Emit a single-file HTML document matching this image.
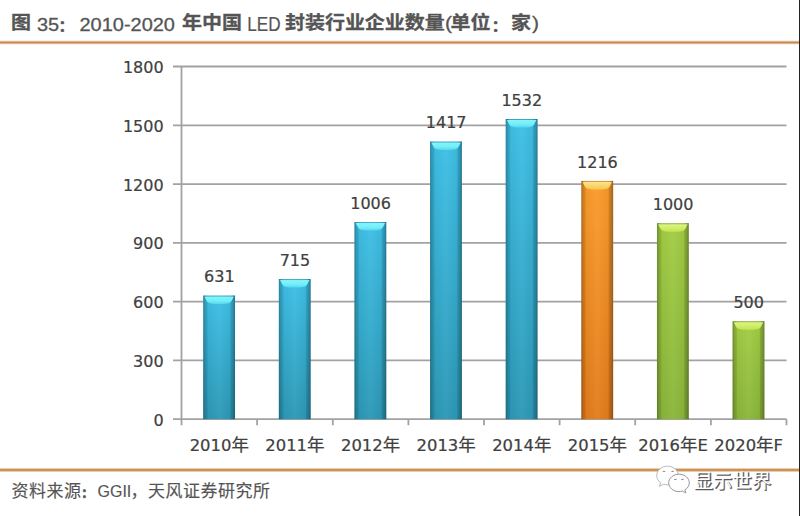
<!DOCTYPE html>
<html><head><meta charset="utf-8">
<style>
html,body{margin:0;padding:0;background:#fff;}
body{width:800px;height:516px;position:relative;overflow:hidden;}
svg{position:absolute;left:0;top:0;}
.cj{font-family:"Liberation Sans","Noto Sans CJK SC",sans-serif;font-size:17.5px;}
</style></head>
<body>
<svg width="800" height="516" viewBox="0 0 800 516">
<defs>
  <linearGradient id="hlg1" x1="0" x2="0" y1="0" y2="1"><stop offset="0" stop-color="#c8844a" stop-opacity="0.25"/><stop offset="0.25" stop-color="#c8844a" stop-opacity="0.6"/><stop offset="0.4" stop-color="#c8844a"/><stop offset="0.6" stop-color="#c8844a"/><stop offset="0.75" stop-color="#c8844a" stop-opacity="0.6"/><stop offset="1" stop-color="#c8844a" stop-opacity="0.25"/></linearGradient>
  <linearGradient id="hlg2" x1="0" x2="0" y1="0" y2="1"><stop offset="0" stop-color="#c98a48" stop-opacity="0.25"/><stop offset="0.25" stop-color="#c98a48" stop-opacity="0.6"/><stop offset="0.4" stop-color="#c98a48"/><stop offset="0.6" stop-color="#c98a48"/><stop offset="0.75" stop-color="#c98a48" stop-opacity="0.6"/><stop offset="1" stop-color="#c98a48" stop-opacity="0.25"/></linearGradient>
  <filter id="sb" x="-20%" y="-20%" width="140%" height="140%"><feGaussianBlur stdDeviation="0.5"/></filter>
  <linearGradient id="bh" x1="0" x2="1" y1="0" y2="0">
    <stop offset="0" stop-color="#000" stop-opacity="0.26"/>
    <stop offset="0.06" stop-color="#000" stop-opacity="0.117"/>
    <stop offset="0.13" stop-color="#000" stop-opacity="0.03"/>
    <stop offset="0.5" stop-color="#fff" stop-opacity="0.04"/>
    <stop offset="0.85" stop-color="#000" stop-opacity="0.04"/>
    <stop offset="0.93" stop-color="#000" stop-opacity="0.135"/>
    <stop offset="1" stop-color="#000" stop-opacity="0.3"/>
  </linearGradient>
  <linearGradient id="gb" x1="0" x2="0" y1="0" y2="1">
    <stop offset="0" stop-color="#3ec0e6"/><stop offset="1" stop-color="#2c98b6"/>
  </linearGradient>
  <linearGradient id="go" x1="0" x2="0" y1="0" y2="1">
    <stop offset="0" stop-color="#fb9c2c"/><stop offset="1" stop-color="#e27c1c"/>
  </linearGradient>
  <linearGradient id="gg" x1="0" x2="0" y1="0" y2="1">
    <stop offset="0" stop-color="#a2cd44"/><stop offset="1" stop-color="#8ab63a"/>
  </linearGradient>
  <linearGradient id="tb" x1="0" x2="0" y1="0" y2="1"><stop offset="0" stop-color="#88f4fa"/><stop offset="0.6" stop-color="#70eef8"/><stop offset="1" stop-color="#58d4ee"/></linearGradient>
  <linearGradient id="to" x1="0" x2="0" y1="0" y2="1"><stop offset="0" stop-color="#fae68a"/><stop offset="1" stop-color="#f8c454"/></linearGradient>
  <linearGradient id="tg" x1="0" x2="0" y1="0" y2="1"><stop offset="0" stop-color="#def684"/><stop offset="1" stop-color="#c2e450"/></linearGradient>
</defs>
<!-- title -->
<g fill="#555" stroke="#555" stroke-width="0.3" font-size="18">
 <text font-family="'Liberation Sans', 'Noto Sans CJK SC', sans-serif" font-weight="700" transform="translate(11 28.7) scale(1.11 1)">图</text>
 <text font-family="'Liberation Sans', sans-serif" transform="translate(37 30.8) scale(1.11 1)">35</text>
 <text font-family="'Liberation Sans', 'Noto Sans CJK SC', sans-serif" font-weight="700" font-size="14.5" stroke-width="0.7" x="58.8" y="31.3">：</text>
 <text font-family="'Liberation Sans', sans-serif" transform="translate(79.5 30.8) scale(1.11 1)">2010-2020</text>
 <text font-family="'Liberation Sans', 'Noto Sans CJK SC', sans-serif" font-weight="700" transform="translate(182 28.7) scale(1.11 1)">年中国</text>
 <text font-family="'Liberation Sans', sans-serif" font-size="19.5" stroke-width="0.2" transform="translate(247.3 30.8) scale(0.88 1)">LED</text>
 <text font-family="'Liberation Sans', 'Noto Sans CJK SC', sans-serif" font-weight="700" transform="translate(285 28.7) scale(1.11 1)">封装行业企业数量</text>
 <text font-family="'Liberation Sans', sans-serif" font-size="19" transform="translate(445 29.3) scale(1.11 1)">(</text>
 <text font-family="'Liberation Sans', 'Noto Sans CJK SC', sans-serif" font-weight="700" transform="translate(450.5 28.7) scale(1.11 1)">单位</text>
 <text font-family="'Liberation Sans', 'Noto Sans CJK SC', sans-serif" font-weight="700" font-size="14.5" stroke-width="0.7" x="492.1" y="31.3">：</text>
 <text font-family="'Liberation Sans', 'Noto Sans CJK SC', sans-serif" font-weight="700" transform="translate(511 28.7) scale(1.11 1)">家</text>
 <text font-family="'Liberation Sans', sans-serif" font-size="19" transform="translate(532 29.3) scale(1.11 1)">)</text>
</g>
<rect x="0" y="40.5" width="799" height="4" fill="url(#hlg1)"/>
<!-- chart -->
<g stroke="#a2a2a2" stroke-width="1.8" fill="none">
  <path d="M173.0 419.2H786.5M173.0 360.4H786.5M173.0 301.6H786.5M173.0 242.8H786.5M173.0 184.1H786.5M173.0 125.3H786.5M173.0 66.5H786.5"/>
  <path d="M181.5 66.5V425.2"/>
  <path d="M257.1 419.2V425.2M332.8 419.2V425.2M408.4 419.2V425.2M484.0 419.2V425.2M559.6 419.2V425.2M635.2 419.2V425.2M710.9 419.2V425.2M786.5 419.2V425.2"/>
</g>
<g font-family="'DejaVu Sans', 'Noto Sans CJK SC', sans-serif" font-size="16" fill="#404040" stroke="#404040" stroke-width="0.22" text-anchor="end"><text x="163.6" y="425.7">0</text><text x="163.6" y="366.9">300</text><text x="163.6" y="308.1">600</text><text x="163.6" y="249.3">900</text><text x="163.6" y="190.6">1200</text><text x="163.6" y="131.8">1500</text><text x="163.6" y="73.0">1800</text></g>
<g><g transform="translate(203.21 295.56)"><rect width="31.8" height="123.64" fill="url(#gb)"/><rect width="31.8" height="123.64" fill="url(#bh)"/><path d="M0 0H3.2L4.5 7.5V123.64H0Z" fill="#000" fill-opacity="0.08"/><path d="M31.8 0H28.6L27.3 7.5V123.64H31.8Z" fill="#000" fill-opacity="0.1"/><path d="M1.2 0.9H30.6L28.6 5C26.8 8.5 22.8 8.5 15.9 8.5C9 8.5 5 8.5 3.2 5Z" fill="url(#tb)" filter="url(#sb)"/><rect width="31.8" height="1" fill="#000" fill-opacity="0.13"/></g><g transform="translate(278.84 279.10)"><rect width="31.8" height="140.10" fill="url(#gb)"/><rect width="31.8" height="140.10" fill="url(#bh)"/><path d="M0 0H3.2L4.5 7.5V140.10H0Z" fill="#000" fill-opacity="0.08"/><path d="M31.8 0H28.6L27.3 7.5V140.10H31.8Z" fill="#000" fill-opacity="0.1"/><path d="M1.2 0.9H30.6L28.6 5C26.8 8.5 22.8 8.5 15.9 8.5C9 8.5 5 8.5 3.2 5Z" fill="url(#tb)" filter="url(#sb)"/><rect width="31.8" height="1" fill="#000" fill-opacity="0.13"/></g><g transform="translate(354.46 222.08)"><rect width="31.8" height="197.12" fill="url(#gb)"/><rect width="31.8" height="197.12" fill="url(#bh)"/><path d="M0 0H3.2L4.5 7.5V197.12H0Z" fill="#000" fill-opacity="0.08"/><path d="M31.8 0H28.6L27.3 7.5V197.12H31.8Z" fill="#000" fill-opacity="0.1"/><path d="M1.2 0.9H30.6L28.6 5C26.8 8.5 22.8 8.5 15.9 8.5C9 8.5 5 8.5 3.2 5Z" fill="url(#tb)" filter="url(#sb)"/><rect width="31.8" height="1" fill="#000" fill-opacity="0.13"/></g><g transform="translate(430.09 141.55)"><rect width="31.8" height="277.65" fill="url(#gb)"/><rect width="31.8" height="277.65" fill="url(#bh)"/><path d="M0 0H3.2L4.5 7.5V277.65H0Z" fill="#000" fill-opacity="0.08"/><path d="M31.8 0H28.6L27.3 7.5V277.65H31.8Z" fill="#000" fill-opacity="0.1"/><path d="M1.2 0.9H30.6L28.6 5C26.8 8.5 22.8 8.5 15.9 8.5C9 8.5 5 8.5 3.2 5Z" fill="url(#tb)" filter="url(#sb)"/><rect width="31.8" height="1" fill="#000" fill-opacity="0.13"/></g><g transform="translate(505.71 119.01)"><rect width="31.8" height="300.19" fill="url(#gb)"/><rect width="31.8" height="300.19" fill="url(#bh)"/><path d="M0 0H3.2L4.5 7.5V300.19H0Z" fill="#000" fill-opacity="0.08"/><path d="M31.8 0H28.6L27.3 7.5V300.19H31.8Z" fill="#000" fill-opacity="0.1"/><path d="M1.2 0.9H30.6L28.6 5C26.8 8.5 22.8 8.5 15.9 8.5C9 8.5 5 8.5 3.2 5Z" fill="url(#tb)" filter="url(#sb)"/><rect width="31.8" height="1" fill="#000" fill-opacity="0.13"/></g><g transform="translate(581.34 180.93)"><rect width="31.8" height="238.27" fill="url(#go)"/><rect width="31.8" height="238.27" fill="url(#bh)"/><path d="M0 0H3.2L4.5 7.5V238.27H0Z" fill="#000" fill-opacity="0.08"/><path d="M31.8 0H28.6L27.3 7.5V238.27H31.8Z" fill="#000" fill-opacity="0.1"/><path d="M1.2 0.9H30.6L28.6 5C26.8 8.5 22.8 8.5 15.9 8.5C9 8.5 5 8.5 3.2 5Z" fill="url(#to)" filter="url(#sb)"/><rect width="31.8" height="1" fill="#000" fill-opacity="0.13"/></g><g transform="translate(656.96 223.26)"><rect width="31.8" height="195.94" fill="url(#gg)"/><rect width="31.8" height="195.94" fill="url(#bh)"/><path d="M0 0H3.2L4.5 7.5V195.94H0Z" fill="#000" fill-opacity="0.08"/><path d="M31.8 0H28.6L27.3 7.5V195.94H31.8Z" fill="#000" fill-opacity="0.1"/><path d="M1.2 0.9H30.6L28.6 5C26.8 8.5 22.8 8.5 15.9 8.5C9 8.5 5 8.5 3.2 5Z" fill="url(#tg)" filter="url(#sb)"/><rect width="31.8" height="1" fill="#000" fill-opacity="0.13"/></g><g transform="translate(732.59 321.23)"><rect width="31.8" height="97.97" fill="url(#gg)"/><rect width="31.8" height="97.97" fill="url(#bh)"/><path d="M0 0H3.2L4.5 7.5V97.97H0Z" fill="#000" fill-opacity="0.08"/><path d="M31.8 0H28.6L27.3 7.5V97.97H31.8Z" fill="#000" fill-opacity="0.1"/><path d="M1.2 0.9H30.6L28.6 5C26.8 8.5 22.8 8.5 15.9 8.5C9 8.5 5 8.5 3.2 5Z" fill="url(#tg)" filter="url(#sb)"/><rect width="31.8" height="1" fill="#000" fill-opacity="0.13"/></g></g>
<g font-family="'DejaVu Sans', 'Noto Sans CJK SC', sans-serif" font-size="16" fill="#404040" stroke="#404040" stroke-width="0.22" text-anchor="middle"><text x="219.3" y="282.3">631</text><text x="294.9" y="265.8">715</text><text x="370.6" y="208.8">1006</text><text x="446.2" y="128.2">1417</text><text x="521.8" y="105.7">1532</text><text x="597.4" y="167.6">1216</text><text x="673.1" y="210.0">1000</text><text x="748.7" y="307.9">500</text></g>
<g font-family="'DejaVu Sans', 'Noto Sans CJK SC', sans-serif" font-size="16.4" fill="#404040" stroke="#404040" stroke-width="0.22" text-anchor="middle"><text x="219.3" y="450.5">2010<tspan class="cj">年</tspan></text><text x="294.9" y="450.5">2011<tspan class="cj">年</tspan></text><text x="370.6" y="450.5">2012<tspan class="cj">年</tspan></text><text x="446.2" y="450.5">2013<tspan class="cj">年</tspan></text><text x="521.8" y="450.5">2014<tspan class="cj">年</tspan></text><text x="597.4" y="450.5">2015<tspan class="cj">年</tspan></text><text x="673.1" y="450.5">2016<tspan class="cj">年</tspan>E</text><text x="748.7" y="450.5">2020<tspan class="cj">年</tspan>F</text></g>
<rect x="0" y="468" width="799" height="4" fill="url(#hlg2)"/>
<rect x="799" y="0" width="1" height="516" fill="#222"/>
<!-- source -->
<g fill="#555" stroke="#555" stroke-width="0.15" font-size="17">
 <text font-family="'Liberation Sans', 'Noto Sans CJK SC', sans-serif" letter-spacing="0.5" x="11.5" y="496.5">资料来源</text>
 <text font-family="'Liberation Sans', 'Noto Sans CJK SC', sans-serif" font-weight="700" font-size="12.5" stroke-width="0.6" x="81.3" y="498.4">：</text>
 <text font-family="'Liberation Sans', sans-serif" font-size="16" x="97.5" y="496.5">GGII</text>
 <text font-family="'Liberation Sans', 'Noto Sans CJK SC', sans-serif" letter-spacing="0.5" x="130.5" y="496.5">，天风证券研究所</text>
</g>
<!-- watermark -->
<g>
 <g stroke-linejoin="round">
  <path d="M667.5 466.2c-6 0-10.8 4.1-10.8 9.3c0 2.9 1.5 5.5 3.9 7.2l-1.1 3.6l4.3-2.1c1.2 0.4 2.4 0.6 3.7 0.6c6 0 10.8-4.1 10.8-9.3s-4.8-9.3-10.8-9.3z" fill="#fff" stroke="#b0b0b0" stroke-width="0.9"/>
  <path d="M679 474.2c-5.7 0-10.3 3.9-10.3 8.7s4.6 8.7 10.3 8.7c1.1 0 2.2-0.2 3.2-0.5l3.6 1.8l-0.9-3.1c2.7-1.6 4.4-4.1 4.4-6.9c0-4.8-4.6-8.7-10.3-8.7z" fill="#fff" stroke="#8c8c8c" stroke-width="0.9"/>
 </g>
 <g stroke="#888" stroke-width="1" stroke-linecap="round">
  <path d="M663.2 471.4h1.6M671.8 471.4h1.6M674.6 479.4h1.6M681.6 479.4h1.6"/>
 </g>
 <text x="693.8" y="487.6" font-family="Liberation Sans, Noto Sans CJK SC, sans-serif" font-size="19" letter-spacing="0.4" fill="#5a5a5a" stroke="#5a5a5a" stroke-width="0.5" transform="translate(1.1 1.1)">显示世界</text>
 <text x="693.8" y="487.6" font-family="Liberation Sans, Noto Sans CJK SC, sans-serif" font-size="19" letter-spacing="0.4" fill="#fff">显示世界</text>
</g>
</svg>
</body></html>
